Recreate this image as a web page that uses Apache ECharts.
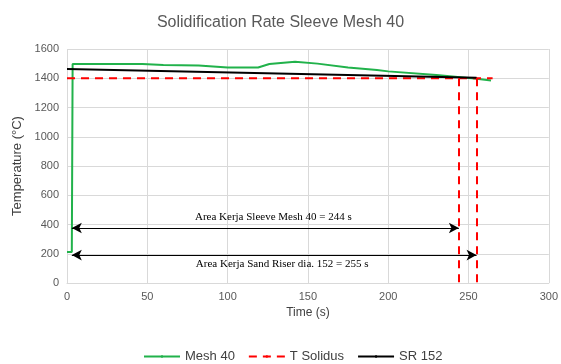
<!DOCTYPE html>
<html><head><meta charset="utf-8">
<script src="https://cdn.jsdelivr.net/npm/echarts@6/dist/echarts.min.js"></script>
<style>html,body{margin:0;padding:0;background:#fff}#c{width:561px;height:364px}</style>
</head><body><div id="c"></div>
<script>
var mesh40 = [[0,212],[3,212],[3.5,1497],[47,1497],[60,1491],[82,1488],[100,1474],[119,1473],[126,1497],[142,1513],[156,1500],[175,1474],[193,1456],[200,1447],[230,1422],[255,1397],[264,1385]];
var tSolidus = [[0,1400],[265,1400]];
var sr152 = [[0,1463],[255,1404]];
var solidusDrops = [244, 255];
var arrowLevels = [376, 191];
var arrowStart = 3;
var arrowLabels = ['Area Kerja Sleeve Mesh 40 = 244 s', 'Area Kerja Sand Riser dia. 152 = 255 s'];

var chart = echarts.init(document.getElementById('c'), null, {renderer:'canvas'});
var font = 'Liberation Sans';
chart.setOption({
  animation:false,
  title:{text:'Solidification Rate Sleeve Mesh 40', left:'center', top:10,
    textStyle:{fontFamily:font, fontSize:16, fontWeight:'normal', color:'#595959'}},
  grid:{left:67, right:8, top:49, bottom:81},
  legend:{top:345, left:138, itemWidth:36, itemHeight:3, itemGap:13,
    textStyle:{fontFamily:font, fontSize:13, color:'#404040'},
    data:['Mesh 40','T Solidus','SR 152']},
  xAxis:{type:'value', min:0, max:300, interval:50, name:'Time (s)', nameLocation:'middle', nameGap:18,
    nameTextStyle:{fontFamily:font, fontSize:12, color:'#404040'},
    axisLine:{show:true, lineStyle:{color:'#d9d9d9'}}, axisTick:{show:false},
    axisLabel:{fontFamily:font, fontSize:11, color:'#595959'},
    splitLine:{show:true, lineStyle:{color:'#d9d9d9'}}},
  yAxis:{type:'value', min:0, max:1600, interval:200, name:'Temperature (°C)', nameLocation:'middle', nameGap:35,
    nameTextStyle:{fontFamily:font, fontSize:13, color:'#404040'},
    axisLine:{show:false}, axisTick:{show:false},
    axisLabel:{fontFamily:font, fontSize:11, color:'#595959', formatter:function(v){return String(v);}},
    splitLine:{show:true, lineStyle:{color:'#d9d9d9'}}},
  series:[
    {name:'Mesh 40', type:'line', data:mesh40, showSymbol:false, symbol:'none',
      lineStyle:{color:'#21b24b', width:2}, itemStyle:{color:'#21b24b'}},
    {name:'T Solidus', type:'line', data:tSolidus, showSymbol:false, symbol:'none',
      lineStyle:{color:'#ff0000', width:2, type:[8,6]}, itemStyle:{color:'#ff0000'},
      markLine:{silent:true, symbol:['none','none'], label:{show:false},
        lineStyle:{color:'#ff0000', width:2, type:[8,6]},
        data: solidusDrops.map(function(x){return [{coord:[x,1400]},{coord:[x,0]}];})}},
    {name:'SR 152', type:'line', data:sr152, showSymbol:false, symbol:'none',
      lineStyle:{color:'#000000', width:2}, itemStyle:{color:'#000000'},
      markLine:{silent:true, symbol:['arrow','arrow'], symbolSize:[8,10],
        lineStyle:{color:'#000000', width:1, type:'solid'},
        data: arrowLevels.map(function(y,i){
          return [{coord:[arrowStart,y], label:{show:true, formatter:arrowLabels[i],
              position: i===0 ? 'insideMiddleTop' : 'insideMiddleBottom', distance: i===0?5:4,
              padding:[0,0,0,16],
              fontFamily:'Liberation Serif', fontSize:11, color:'#000'}},
            {coord:[solidusDrops[i],y]}];
        })}}
  ]
});
</script></body></html>
